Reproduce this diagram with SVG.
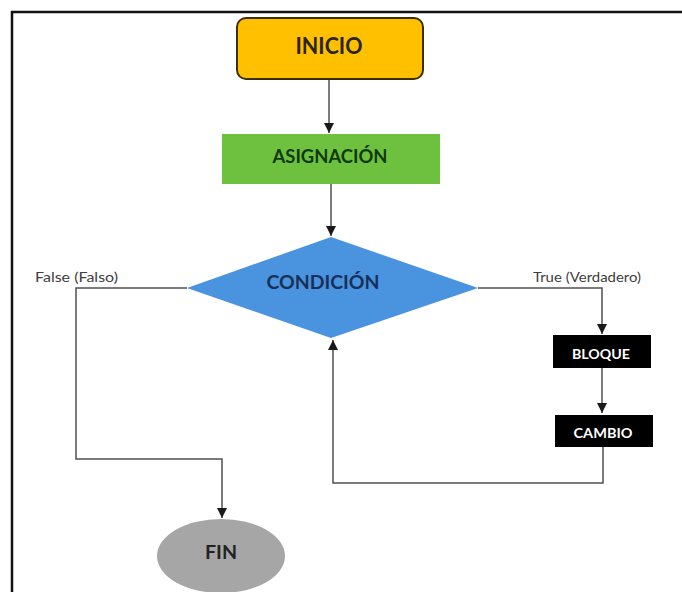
<svg xmlns="http://www.w3.org/2000/svg" width="682" height="592" viewBox="0 0 682 592">
  <style>
    .lbl { font-family: Lato, "Open Sans", "Liberation Sans", sans-serif; font-weight: bold; text-anchor: middle; }
    .edge { fill: none; stroke: #505050; stroke-width: 1.5; marker-end: url(#arrow); }
    .note { font-family: Lato, "Open Sans", "Liberation Sans", sans-serif; font-size: 13.5px; fill: #404040; }
  </style>
  <defs>
    <marker id="arrow" markerUnits="userSpaceOnUse" markerWidth="10" markerHeight="10" viewBox="0 0 10 10" refX="10" refY="5" orient="auto">
      <path d="M0,0 L10,5 L0,10 Z" fill="#1a1a1a"/>
    </marker>
  </defs>
  <rect width="682" height="592" fill="#ffffff"/>
  <!-- outer frame -->
  <path d="M12,594 V12 H684" fill="none" stroke="#111111" stroke-width="2.5"/>

  <g id="connectors">
    <path class="edge" d="M329,79 V133"/>
    <path class="edge" d="M331,184 V236"/>
    <path class="edge" d="M187,288 H76 V459 H222 V518"/>
    <path class="edge" d="M478,288 H602 V334"/>
    <path class="edge" d="M602,368 V413"/>
    <path class="edge" d="M603,447 V483 H333 V340"/>
  </g>

  <g id="inicio">
    <rect x="237" y="18" width="186" height="61" rx="9" fill="#FFC000" stroke="#3d2f05" stroke-width="2"/>
    <text class="lbl" x="329" y="54" font-size="22" fill="#2a2410" textLength="67" lengthAdjust="spacingAndGlyphs">INICIO</text>
  </g>

  <g id="asignacion">
    <rect x="222" y="134" width="218" height="50" fill="#6DC13F"/>
    <text class="lbl" x="330" y="163" font-size="19" fill="#123a10" textLength="115" lengthAdjust="spacingAndGlyphs">ASIGNACIÓN</text>
  </g>

  <g id="condicion">
    <polygon points="331,237 478,288 331,338 187,288" fill="#4A93DE"/>
    <text class="lbl" x="323" y="289" font-size="18" fill="#16305a" textLength="113" lengthAdjust="spacingAndGlyphs">CONDICIÓN</text>
  </g>

  <g id="bloque">
    <rect x="553" y="335" width="98" height="33" fill="#000000"/>
    <text class="lbl" x="601" y="359" font-size="13.5" fill="#ffffff" textLength="58" lengthAdjust="spacingAndGlyphs">BLOQUE</text>
  </g>

  <g id="cambio">
    <rect x="555" y="415" width="98" height="32" fill="#000000"/>
    <text class="lbl" x="603" y="438" font-size="13.5" fill="#ffffff" textLength="59" lengthAdjust="spacingAndGlyphs">CAMBIO</text>
  </g>

  <g id="fin">
    <ellipse cx="221" cy="556" rx="64" ry="37" fill="#A6A6A6"/>
    <text class="lbl" x="221" y="559" font-size="18" fill="#222222" textLength="32" lengthAdjust="spacingAndGlyphs">FIN</text>
  </g>

  <g id="labels">
    <text class="note" x="35" y="282" textLength="83" lengthAdjust="spacingAndGlyphs">False (Falso)</text>
    <text class="note" x="533" y="282" textLength="108" lengthAdjust="spacingAndGlyphs">True (Verdadero)</text>
  </g>
</svg>
